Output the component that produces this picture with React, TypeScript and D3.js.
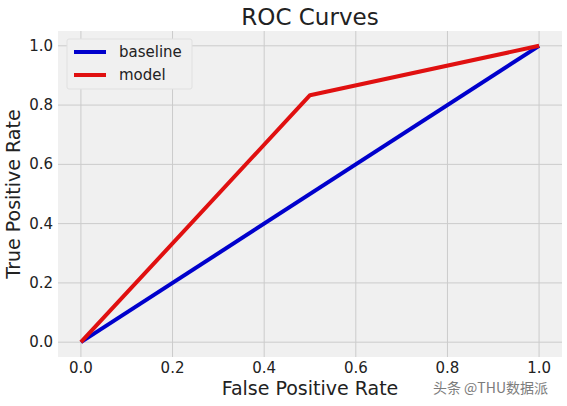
import React from 'react';
import * as d3 from 'd3';

const baselineFpr = [0, 1];
const baselineTpr = [0, 1];
const modelFpr = [0, 0.5, 1];
const modelTpr = [0, 0.8333, 1];
const ticks = [0, 0.2, 0.4, 0.6, 0.8, 1.0];

const width = 567;
const height = 406;
const margin = { top: 31, right: 5, bottom: 49, left: 58 };
const font = 'DejaVu Sans, sans-serif';

export default function App() {
  const innerW = width - margin.left - margin.right;
  const innerH = height - margin.top - margin.bottom;
  const x = d3.scaleLinear().domain([-0.05, 1.05]).range([0, innerW]);
  const y = d3.scaleLinear().domain([-0.05, 1.05]).range([innerH, 0]);
  const line = d3.line<[number, number]>().x(d => x(d[0])).y(d => y(d[1]));

  const series = [
    { name: 'baseline', color: '#0000cc', pts: baselineFpr.map((v, i) => [v, baselineTpr[i]] as [number, number]) },
    { name: 'model', color: '#e01010', pts: modelFpr.map((v, i) => [v, modelTpr[i]] as [number, number]) },
  ];

  return (
    <svg width={width} height={height} style={{ position: 'absolute', left: 0, top: 0, background: '#fff' }}>
      <text x={310} y={25} textAnchor="middle" fontFamily={font} fontSize={23} fill="#222">ROC Curves</text>
      <g transform={`translate(${margin.left},${margin.top})`}>
        <rect width={innerW} height={innerH} fill="#f0f0f0" />
        {ticks.map(t => (
          <g key={'g' + t}>
            <line x1={x(t)} x2={x(t)} y1={0} y2={innerH} stroke="#cbcbcb" strokeWidth={1} />
            <line x1={0} x2={innerW} y1={y(t)} y2={y(t)} stroke="#cbcbcb" strokeWidth={1} />
            <text x={x(t)} y={innerH + 16} textAnchor="middle" fontFamily={font} fontSize={15} fill="#222">{t.toFixed(1)}</text>
            <text x={-5} y={y(t) + 5} textAnchor="end" fontFamily={font} fontSize={15} fill="#222">{t.toFixed(1)}</text>
          </g>
        ))}
        {series.map(s => (
          <path key={s.name} d={line(s.pts) || ''} fill="none" stroke={s.color} strokeWidth={4} strokeLinejoin="round" strokeLinecap="butt" />
        ))}
        <g transform="translate(9,8)">
          <rect width={125} height={50} fill="#f0f0f0" stroke="#e0e0e0" strokeWidth={1} rx={2} />
          {series.map((s, i) => (
            <g key={'l' + s.name} transform={`translate(0,${13 + i * 23})`}>
              <line x1={7} x2={39} y1={0} y2={0} stroke={s.color} strokeWidth={4} />
              <text x={52} y={5} fontFamily={font} fontSize={15} fill="#222">{s.name}</text>
            </g>
          ))}
        </g>
      </g>
      <text x={310} y={395} textAnchor="middle" fontFamily={font} fontSize={19} fill="#222">False Positive Rate</text>
      <text transform={`translate(20,${margin.top + innerH / 2}) rotate(-90)`} textAnchor="middle" fontFamily={font} fontSize={19} fill="#222">True Positive Rate</text>
      <text x={548} y={393} textAnchor="end" fontFamily="Noto Sans CJK SC, sans-serif" fontSize={14} fill="#666" opacity={0.85}>头条 @THU数据派</text>
    </svg>
  );
}
